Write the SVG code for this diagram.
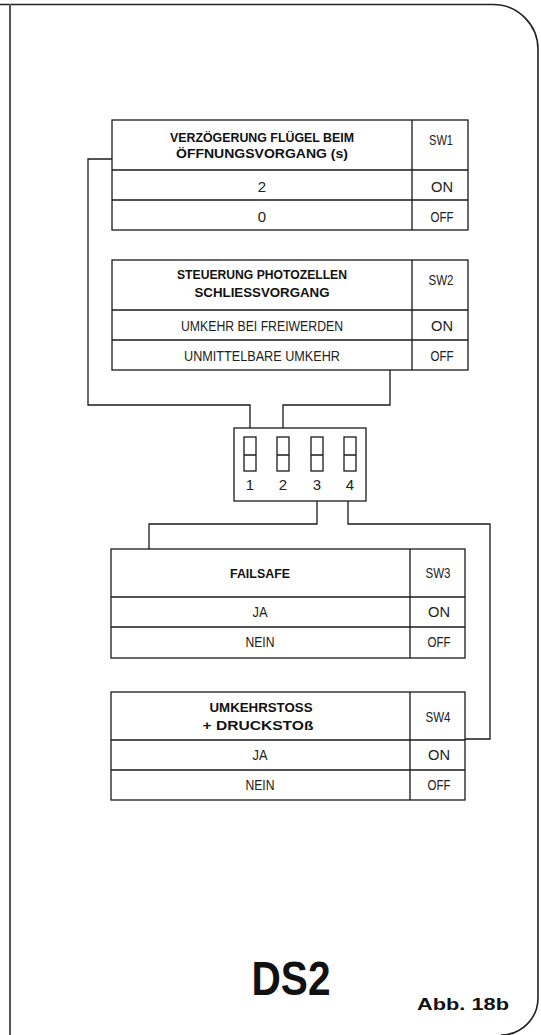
<svg xmlns="http://www.w3.org/2000/svg" width="541" height="1035" viewBox="0 0 541 1035">
<style>
.t{fill:none;stroke:#1a1a1a;stroke-width:1.3}
.c{fill:none;stroke:#1a1a1a;stroke-width:1.3}
.h{font-family:"Liberation Sans",Arial,sans-serif;font-weight:bold;font-size:13.5px;fill:#111;text-anchor:middle}
.r{font-family:"Liberation Sans",Arial,sans-serif;font-size:15px;fill:#222;text-anchor:middle}
.big{font-family:"Liberation Sans",Arial,sans-serif;font-weight:bold;fill:#111;text-anchor:middle}
</style>
<rect width="541" height="1035" fill="#fff"/>
<g id="frame">
<path d="M0,4.5 H493 A45,45 0 0 1 538,49.5 V998 A37,37 0 0 1 501,1035" fill="none" stroke="#222" stroke-width="1.6"/>
<line x1="10" y1="4" x2="10" y2="1035" stroke="#555" stroke-width="2"/>
</g>
<g id="connectors">
<path class="c" d="M112,159 H88 V405 H250 V428"/>
<path class="c" d="M390,370 V405 H283 V428"/>
<path class="c" d="M317,501 V524 H149 V549"/>
<path class="c" d="M348,501 V524 H490 V739 H465"/>
</g>
<g id="sw1-table">
<rect class="t" x="112" y="120" width="356" height="110"/>
<path class="t" d="M412,120 V230 M112,170 H468 M112,200 H468"/>
<text class="h" x="262" y="142" textLength="184" lengthAdjust="spacingAndGlyphs">VERZÖGERUNG FLÜGEL BEIM</text>
<text class="h" x="262" y="158" textLength="172" lengthAdjust="spacingAndGlyphs">ÖFFNUNGSVORGANG (s)</text>
<text class="r" x="441" y="145" textLength="24" lengthAdjust="spacingAndGlyphs">SW1</text>
<text class="r" x="262" y="192">2</text>
<text class="r" x="442" y="192" textLength="22" lengthAdjust="spacingAndGlyphs">ON</text>
<text class="r" x="262" y="222">0</text>
<text class="r" x="442" y="222" textLength="23" lengthAdjust="spacingAndGlyphs">OFF</text>
</g>
<g id="sw2-table">
<rect class="t" x="112" y="260" width="356" height="110"/>
<path class="t" d="M412,260 V370 M112,310 H468 M112,340 H468"/>
<text class="h" x="262" y="279" textLength="170" lengthAdjust="spacingAndGlyphs">STEUERUNG PHOTOZELLEN</text>
<text class="h" x="262" y="297" textLength="135" lengthAdjust="spacingAndGlyphs">SCHLIESSVORGANG</text>
<text class="r" x="441" y="285" textLength="25" lengthAdjust="spacingAndGlyphs">SW2</text>
<text class="r" x="262" y="331" textLength="162" lengthAdjust="spacingAndGlyphs">UMKEHR BEI FREIWERDEN</text>
<text class="r" x="442" y="331" textLength="22" lengthAdjust="spacingAndGlyphs">ON</text>
<text class="r" x="262" y="361" textLength="156" lengthAdjust="spacingAndGlyphs">UNMITTELBARE UMKEHR</text>
<text class="r" x="442" y="361" textLength="23" lengthAdjust="spacingAndGlyphs">OFF</text>
</g>
<g id="dip-switch">
<rect class="t" x="234" y="428" width="132" height="73"/>
<rect class="t" x="244" y="437" width="12" height="34"/>
<rect class="t" x="277" y="437" width="12" height="34"/>
<rect class="t" x="311" y="437" width="12" height="34"/>
<rect class="t" x="344" y="437" width="12" height="34"/>
<path class="t" d="M244,455 H256 M277,455 H289 M311,455 H323 M344,455 H356"/>
<text class="r" x="250" y="490">1</text>
<text class="r" x="283" y="490">2</text>
<text class="r" x="317" y="490">3</text>
<text class="r" x="350" y="490">4</text>
</g>
<g id="sw3-table">
<rect class="t" x="111" y="549" width="354" height="109"/>
<path class="t" d="M410,549 V658 M111,597 H465 M111,627 H465"/>
<text class="h" x="260" y="578" textLength="60" lengthAdjust="spacingAndGlyphs">FAILSAFE</text>
<text class="r" x="438" y="578" textLength="25" lengthAdjust="spacingAndGlyphs">SW3</text>
<text class="r" x="260" y="617" textLength="15" lengthAdjust="spacingAndGlyphs">JA</text>
<text class="r" x="439" y="617" textLength="22" lengthAdjust="spacingAndGlyphs">ON</text>
<text class="r" x="260" y="647" textLength="29" lengthAdjust="spacingAndGlyphs">NEIN</text>
<text class="r" x="439" y="647" textLength="23" lengthAdjust="spacingAndGlyphs">OFF</text>
</g>
<g id="sw4-table">
<rect class="t" x="111" y="692" width="354" height="108"/>
<path class="t" d="M410,692 V800 M111,740 H465 M111,770 H465"/>
<text class="h" x="261" y="712" textLength="103" lengthAdjust="spacingAndGlyphs">UMKEHRSTOSS</text>
<text class="h" x="258" y="730" textLength="111" lengthAdjust="spacingAndGlyphs">+ DRUCKSTOß</text>
<text class="r" x="438" y="722" textLength="25" lengthAdjust="spacingAndGlyphs">SW4</text>
<text class="r" x="260" y="760" textLength="15" lengthAdjust="spacingAndGlyphs">JA</text>
<text class="r" x="439" y="760" textLength="22" lengthAdjust="spacingAndGlyphs">ON</text>
<text class="r" x="260" y="790" textLength="29" lengthAdjust="spacingAndGlyphs">NEIN</text>
<text class="r" x="439" y="790" textLength="23" lengthAdjust="spacingAndGlyphs">OFF</text>
</g>
<g id="labels">
<text class="big" x="291" y="995" font-size="48" textLength="79" lengthAdjust="spacingAndGlyphs">DS2</text>
<text class="big" x="463" y="1010" font-size="17" textLength="92" lengthAdjust="spacingAndGlyphs">Abb.  18b</text>
</g>
</svg>
